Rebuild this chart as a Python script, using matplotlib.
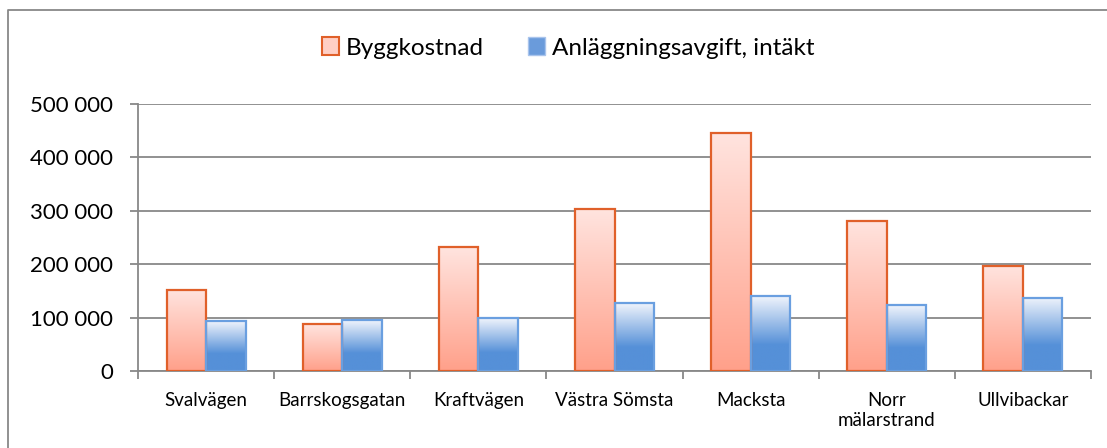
import numpy as np
import matplotlib
matplotlib.use("Agg")
import matplotlib.pyplot as plt
from matplotlib.colors import LinearSegmentedColormap
from matplotlib.patches import Patch
from matplotlib.lines import Line2D

plt.rcParams['font.family'] = ['Lato', 'DejaVu Sans']

omraden = ['Svalvägen', 'Barrskogsgatan', 'Kraftvägen', 'Västra Sömsta',
           'Macksta', 'Norr\nmälarstrand', 'Ullvibackar']
byggkostnad = [152000, 88000, 232000, 303000, 445000, 281000, 197000]
avgift = [93000, 95000, 99000, 127000, 140000, 123000, 137000]

fig = plt.figure(figsize=(11.07, 4.48), dpi=100)
ax = fig.add_axes([138 / 1107, 77 / 448, 953 / 1107, 267 / 448])

x = np.arange(len(omraden))
w = 0.29

# gradienter som i Excel
orange_cm = LinearSegmentedColormap.from_list('o', ['#FFA08A', '#FFE4DF'])
blue_cm = LinearSegmentedColormap.from_list('b', [(0, '#5590D8'), (0.35, '#5590D8'), (1, '#F0F4FC')])
grad = np.linspace(0, 1, 256).reshape(-1, 1)

b1 = ax.bar(x - w / 2, byggkostnad, w, facecolor='none', edgecolor='#E0602A', linewidth=1.6, zorder=3)
b2 = ax.bar(x + w / 2, avgift, w, facecolor='none', edgecolor='#6A9FE0', linewidth=1.6, zorder=3)
for bars, cm in [(b1, orange_cm), (b2, blue_cm)]:
    for r in bars:
        x0, h = r.get_x(), r.get_height()
        im = ax.imshow(grad, extent=(x0, x0 + r.get_width(), 0, h), origin='lower',
                       cmap=cm, aspect='auto', zorder=2, interpolation='bilinear')
        im.set_clip_path(r)

ax.set_xlim(-0.5, len(omraden) - 0.5)
ax.set_ylim(0, 500000)
ax.set_yticks(range(0, 500001, 100000))
ax.set_yticklabels([f'{v:,}'.replace(',', ' ') for v in range(0, 500001, 100000)], fontsize=16)
ax.yaxis.grid(True, color='#888888', linewidth=1.3, zorder=0)
ax.set_axisbelow(True)

ax.set_xticks(x)
ax.set_xticklabels(omraden, fontsize=13.5, linespacing=1.25, va='top')
ax.set_xticks(np.arange(-0.5, len(omraden), 1), minor=True)
ax.tick_params(axis='x', which='major', length=0, pad=15)
ax.tick_params(axis='x', which='minor', length=6, color='#888888', width=1.3)
ax.tick_params(axis='y', length=6, color='#888888', width=1.3, pad=12)

for s in ['top', 'right']:
    ax.spines[s].set_visible(False)
for s in ['left', 'bottom']:
    ax.spines[s].set_color('#888888')
    ax.spines[s].set_linewidth(1.3)

handles = [Patch(facecolor='#FFCFC5', edgecolor='#E0602A', linewidth=1.5),
           Patch(facecolor='#6A9BDB', edgecolor='#A9C4EC', linewidth=1.0)]
fig.legend(handles, ['Byggkostnad', 'Anläggningsavgift, intäkt'], loc='center',
           bbox_to_anchor=(568 / 1107, 1 - 48 / 448), ncol=2, frameon=False, fontsize=17.5,
           handlelength=0.7, handleheight=0.7, handletextpad=0.3, columnspacing=1.8)

# ram runt diagrammet
fig.add_artist(Line2D([8 / 1107, 8 / 1107, 1.0], [0, 1 - 10 / 448, 1 - 10 / 448],
                      transform=fig.transFigure, color='#888888', linewidth=1.3))

fig.savefig('out.png', dpi=100)
